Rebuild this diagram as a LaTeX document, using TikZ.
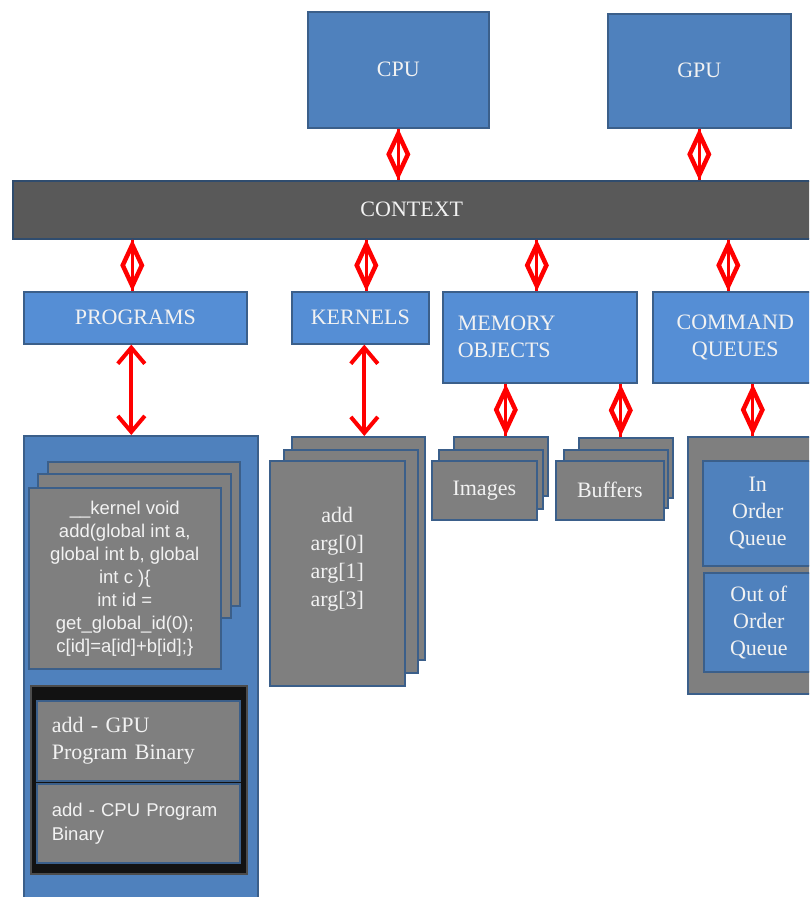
\documentclass[tikz,border=0pt]{standalone}
\usepackage{fontspec}
\setmainfont{Liberation Serif}
\newfontfamily\arialf{Liberation Sans}
\usetikzlibrary{arrows.meta,shapes.geometric,decorations.markings}
\definecolor{blueA}{HTML}{4F81BD}
\definecolor{blueB}{HTML}{558ED5}
\definecolor{edgeB}{HTML}{3B5F8A}
\definecolor{cardG}{HTML}{7F7F7F}
\definecolor{ctxG}{HTML}{595959}
\definecolor{blackB}{HTML}{121212}
\definecolor{txtW}{HTML}{F2F2F2}
\definecolor{conRed}{HTML}{FF0000}
\tikzset{
  base/.style={anchor=north west, draw=edgeB, line width=1.6pt, inner sep=0pt,
    text=txtW, font=\fontsize{22}{27}\selectfont, align=center},
  bluebox/.style={base, fill=blueA},
  lightbox/.style={base, fill=blueB},
  card/.style={base, fill=cardG},
  ctxbox/.style={base, fill=ctxG, draw=edgeB!80!black},
  blackbox/.style={base, fill=blackB, draw=black!70},
  codetext/.style={text=txtW, font=\arialf\fontsize{18.5}{23}\selectfont, align=center},
  diamconn/.style={draw=conRed, line width=3pt,
    postaction={decorate},
    decoration={markings, mark=at position 0.5 with {\node[diamond, draw=conRed, line width=4.5pt, minimum width=21pt, minimum height=43pt, inner sep=0pt]{};}}},
  dblarrow/.style={draw=conRed, line width=4pt, {Straight Barb[length=16pt,width=27pt]}-{Straight Barb[length=16pt,width=27pt]}}
}
\begin{document}
\begin{tikzpicture}[x=1pt,y=-1pt]
\useasboundingbox (0,0) rectangle (809,897);
\clip (0,0) rectangle (809,897);
\fill[white] (0,0) rectangle (809,897);

% top
\node[bluebox, minimum width=181pt, minimum height=116pt] (cpu) at (307,11) {CPU};
\node[bluebox, minimum width=183pt, minimum height=114pt] (gpu) at (607,13) {GPU};
\node[ctxbox, minimum width=798pt, minimum height=58pt] (ctx) at (12,180) {CONTEXT};

% row 2
\node[lightbox, minimum width=223pt, minimum height=52pt] (prog) at (23,291) {PROGRAMS};
\node[lightbox, minimum width=137pt, minimum height=52pt] (kern) at (291,291) {KERNELS};
\node[lightbox, minimum height=91pt, text width=164pt, inner xsep=15pt, align=left] (mem) at (442,291) {MEMORY\\OBJECTS};
\node[lightbox, minimum width=165pt, minimum height=91pt] (cmd) at (652,291) {COMMAND\\QUEUES};

% programs container
\node[bluebox, minimum width=234pt, minimum height=480pt] (progc) at (23,435) {};
\node[card, minimum width=192pt, minimum height=144pt] (pc3) at (47,461) {};
\node[card, minimum width=193pt, minimum height=144pt] (pc2) at (37,473) {};
\node[card, minimum width=192pt, minimum height=181pt] (pc1) at (28,487) {};
\node[codetext] (code) at (pc1.center) {\_\_kernel void\\add(global int a,\\global int b, global\\int c )\{\\int id =\\get\_global\_id(0);\\c[id]=a[id]+b[id];\}};
\node[blackbox, minimum width=216pt, minimum height=188pt] (bin) at (30,685) {};
\node[card, minimum height=80pt, text width=181pt, inner xsep=11pt, align=left] (gpubin) at (36,700) {\hspace*{4pt}add - GPU\\\hspace*{4pt}Program Binary};
\node[card, minimum height=79pt, text width=181pt, inner xsep=11pt, align=left, font=\arialf\fontsize{18.5}{24}\selectfont] (cpubin) at (36,783) {\hspace*{4pt}add - CPU Program\\\hspace*{4pt}Binary};

% kernels stack
\node[card, minimum width=133pt, minimum height=223pt] (kc3) at (291,436) {};
\node[card, minimum width=134pt, minimum height=223pt] (kc2) at (283,449) {};
\node[card, minimum width=135pt, minimum height=225pt] (kc1) at (269,460) {};
\node[text=txtW, font=\fontsize{22}{28}\selectfont, align=center] (ktext) at ([yshift=14pt]kc1.center) {add\\arg[0]\\arg[1]\\arg[3]};

% images stack
\node[card, minimum width=94pt, minimum height=59pt] (im3) at (453,436) {};
\node[card, minimum width=104pt, minimum height=59pt] (im2) at (438,449) {};
\node[card, minimum width=105pt, minimum height=59pt] (im1) at (431,460) {Images};

% buffers stack
\node[card, minimum width=94pt, minimum height=60pt] (bf3) at (578,437) {};
\node[card, minimum width=104pt, minimum height=58pt] (bf2) at (563,449) {};
\node[card, minimum width=108pt, minimum height=59pt] (bf1) at (555,460) {Buffers};

% command queues
\node[card, minimum width=140pt, minimum height=257pt] (cqc) at (687,436) {};
\node[bluebox, minimum width=110pt, minimum height=105pt] (inq) at (702,460) {In\\Order\\Queue};
\node[bluebox, minimum width=110pt, minimum height=99pt] (outq) at (703,572) {Out of\\Order\\Queue};

% connectors
\draw[diamconn] (cpu.south) -- (cpu.south |- ctx.north);
\draw[diamconn] (gpu.south) -- (gpu.south |- ctx.north);
\draw[diamconn] ([xshift=-3pt]prog.north |- ctx.south) -- ([xshift=-3pt]prog.north);
\draw[diamconn] ([xshift=6pt]kern.north |- ctx.south) -- ([xshift=6pt]kern.north);
\draw[diamconn] ([xshift=-3pt]mem.north |- ctx.south) -- ([xshift=-3pt]mem.north);
\draw[diamconn] ([xshift=-7pt]cmd.north |- ctx.south) -- ([xshift=-7pt]cmd.north);

\draw[dblarrow] ([xshift=-4pt]prog.south) -- ([xshift=-4pt]prog.south |- progc.north);
\draw[dblarrow] ([xshift=4pt]kern.south) -- ([xshift=4pt]kern.south |- kc3.north);

\draw[diamconn] ([xshift=5pt]im3.north |- mem.south) -- ([xshift=5pt]im3.north);
\draw[diamconn] ([xshift=-5pt]bf3.north |- mem.south) -- ([xshift=-5pt]bf3.north);
\draw[diamconn] ([xshift=-5pt]cqc.north |- cmd.south) -- ([xshift=-5pt]cqc.north);
\end{tikzpicture}
\end{document}
